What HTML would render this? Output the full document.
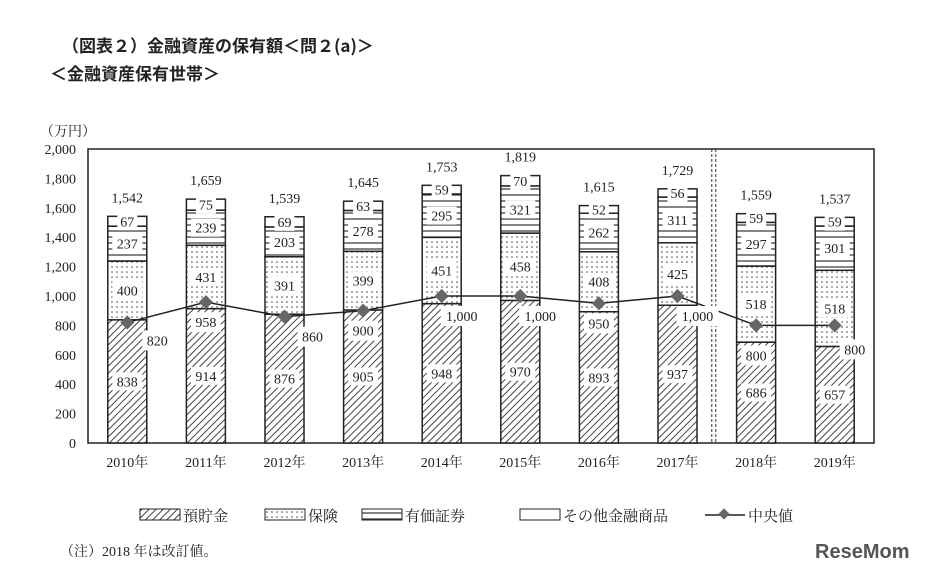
<!DOCTYPE html>
<html><head><meta charset="utf-8"><style>
body{margin:0;background:#fff;font-family:"Liberation Serif","Noto Serif CJK SC","Noto Sans CJK JP",serif;}
svg text{font-family:"Liberation Serif","Noto Serif CJK SC","Noto Sans CJK JP",serif;fill:#222;}
</style></head><body>
<svg width="926" height="573" viewBox="0 0 926 573" xmlns="http://www.w3.org/2000/svg">
<defs>
<pattern id="hatch" width="5" height="5" patternUnits="userSpaceOnUse" patternTransform="rotate(45)"><rect width="5" height="5" fill="#fff"/><line x1="0" y1="0" x2="0" y2="5" stroke="#444" stroke-width="2"/></pattern>
<pattern id="dots" width="5" height="5" patternUnits="userSpaceOnUse"><rect width="5" height="5" fill="#fff"/><circle cx="2" cy="2" r="0.8" fill="#444"/></pattern>
<pattern id="hlines" width="8" height="6" patternUnits="userSpaceOnUse"><rect width="8" height="6" fill="#fff"/><line x1="0" y1="3" x2="8" y2="3" stroke="#333" stroke-width="1.2"/></pattern>
</defs>
<text x="62" y="52" font-size="17" font-weight="bold" style="font-family:'Noto Sans CJK JP',sans-serif">（図表２）金融資産の保有額＜問２(a)＞</text>
<text x="50" y="80" font-size="17" font-weight="bold" style="font-family:'Noto Sans CJK JP',sans-serif">＜金融資産保有世帯＞</text>
<text x="40" y="136" font-size="14">（万円）</text>
<g id="yaxis"></g>
<g id="plot"></g>
<g id="legend">
<g><rect x="140" y="509" width="40" height="11" fill="url(#hatch)" stroke="#222"/><text x="183" y="521" font-size="15">預貯金</text></g>
<g><rect x="265" y="509" width="40" height="11" fill="url(#dots)" stroke="#222"/><text x="308" y="521" font-size="15">保険</text></g>
<g><rect x="362" y="509" width="40" height="11" fill="url(#hlines)" stroke="#222"/><text x="405" y="521" font-size="15">有価証券</text></g>
<g><rect x="520" y="509" width="40" height="11" fill="#fff" stroke="#222"/><text x="563" y="521" font-size="15">その他金融商品</text></g>
<g><line x1="705" y1="515" x2="745" y2="515" stroke="#222" stroke-width="1.5"/><rect x="720" y="510" width="8" height="8" fill="#666" transform="rotate(45 724 514)"/><text x="748" y="521" font-size="15">中央値</text></g>
</g>
<text x="60" y="556" font-size="14">（注）2018 年は改訂値。</text>
<text x="815" y="558" font-size="20" font-weight="bold" style="fill:#555;font-family:'Liberation Sans',sans-serif">ReseMom</text>
</svg>
<script>
const years=["2010年","2011年","2012年","2013年","2014年","2015年","2016年","2017年","2018年","2019年"];
const deposits=[838,914,876,905,948,970,893,937,686,657];
const insurance=[400,431,391,399,451,458,408,425,518,518];
const securities=[237,239,203,278,295,321,262,311,297,301];
const other=[67,75,69,63,59,70,52,56,59,59];
const totals=["1,542","1,659","1,539","1,645","1,753","1,819","1,615","1,729","1,559","1,537"];
const median=[820,958,860,900,1000,1000,950,1000,800,800];
const medianLabels=["820","958","860","900","1,000","1,000","950","1,000","800","800"];
const yTicks=[0,200,400,600,800,1000,1200,1400,1600,1800,2000];
const yTickLabels=["0","200","400","600","800","1,000","1,200","1,400","1,600","1,800","2,000"];
const NS="http://www.w3.org/2000/svg";
const X0=88,X1=874,Y0=443,Y1=149;
const y=v=>Y0-(v/2000)*(Y0-Y1);
const step=(X1-X0)/years.length;
const xc=i=>X0+step*(i+0.5);
const BW=39;
function mk(tag,at,parent){const e=document.createElementNS(NS,tag);for(const k in at)e.setAttribute(k,at[k]);parent.appendChild(e);return e;}
const ya=document.getElementById('yaxis'),pl=document.getElementById('plot');
yTicks.forEach((t,i)=>{const e=mk('text',{x:X0-12,y:y(t)+5,'font-size':14,'text-anchor':'end'},ya);e.textContent=yTickLabels[i];

});
const fr=mk('rect',{x:X0,y:Y1,width:X1-X0,height:Y0-Y1,fill:'none',stroke:'#222','stroke-width':1.5},pl);


const sepX=X0+step*8-3;
[sepX-2,sepX+2].forEach(xx=>{const l=mk('line',{x1:xx,y1:Y1,x2:xx,y2:Y0,stroke:'#333','stroke-dasharray':'3,2'},pl);

});
const fills=['url(#hatch)','url(#dots)','url(#hlines)','#fff'];
const series=[deposits,insurance,securities,other];
const snames=['deposits','insurance','securities','other'];
const mdx=[30,0,28,0,20,20,0,20,0,20];
const mdy=[18,20,20,20,20,20,20,20,30,24];
years.forEach((yr,i)=>{
  let base=0;
  series.forEach((s,k)=>{
    const v=s[i];const r=mk('rect',{x:xc(i)-BW/2,y:y(base+v),width:BW,height:y(base)-y(base+v),fill:fills[k],stroke:'#222','stroke-width':1.5},pl);
    
    
    const cy=(y(base)+y(base+v))/2;
    const w=v>=100?30:20;
    mk('rect',{x:xc(i)-w/2,y:cy-9,width:w,height:18,fill:'#fff'},pl);
    const t=mk('text',{x:xc(i),y:cy+5,'font-size':14,'text-anchor':'middle'},pl);t.textContent=v;
    
    
    base+=v;
  });
  const tt=mk('text',{x:xc(i),y:y(base)-14,'font-size':14,'text-anchor':'middle'},pl);tt.textContent=totals[i];
  
  
  const xl=mk('text',{x:xc(i),y:Y0+24,'font-size':14,'text-anchor':'middle'},pl);xl.textContent=yr;
  
  
});
let d='';median.forEach((m,i)=>{d+=(i?'L':'M')+xc(i)+' '+y(m);});
const ml=mk('path',{d:d,fill:'none',stroke:'#222','stroke-width':1.5},pl);


median.forEach((m,i)=>{
  const p=mk('rect',{x:xc(i)-5,y:y(m)-5,width:10,height:10,fill:'#666',transform:`rotate(45 ${xc(i)} ${y(m)})`},pl);
  
  
  const lx=xc(i)+mdx[i],ly=y(m)+mdy[i];const w=medianLabels[i].length>3?42:30;
  mk('rect',{x:lx-w/2,y:ly-10,width:w,height:20,fill:'#fff'},pl);
  const t=mk('text',{x:lx,y:ly+5,'font-size':14,'text-anchor':'middle'},pl);t.textContent=medianLabels[i];
  
  
});
</script>
</body></html>
